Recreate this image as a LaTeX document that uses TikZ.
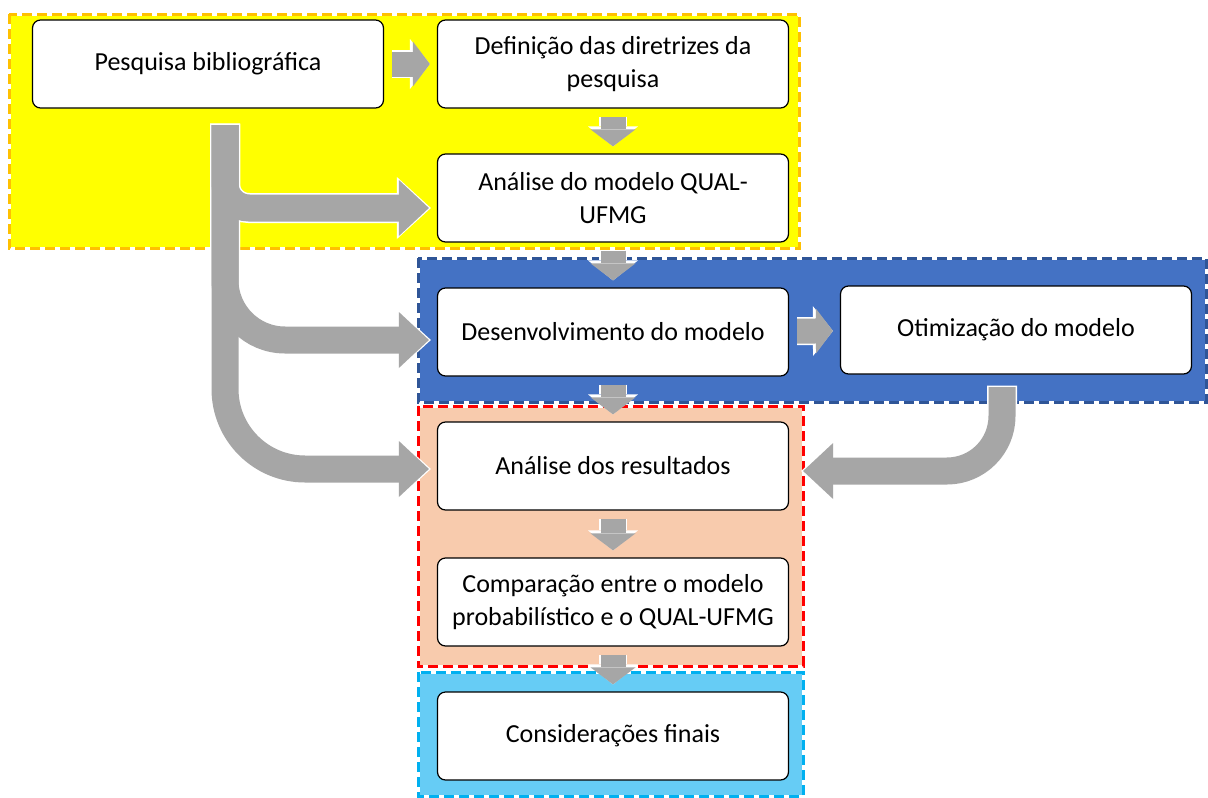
\documentclass[tikz,border=0pt]{standalone}
\usepackage{fontspec}
\setmainfont{Carlito}
\usetikzlibrary{arrows.meta}
\definecolor{yyellow}{HTML}{FFFF00}
\definecolor{oorange}{HTML}{FFC000}
\definecolor{bblue}{HTML}{4472C4}
\definecolor{dblue}{HTML}{2F5597}
\definecolor{ppeach}{HTML}{F8CBAD}
\definecolor{rred}{HTML}{FF0000}
\definecolor{ccyan}{HTML}{66CCF5}
\definecolor{ssky}{HTML}{00B0F0}
\definecolor{ggray}{HTML}{A6A6A6}

\newcommand\trunklines[1]{%
\draw[#1, rounded corners=24pt] (trunk) |- ([yshift=-10pt]anal.west);
\draw[#1, rounded corners=60pt] (trunk) |- ([yshift=-8pt]desv.west);
\draw[#1, rounded corners=80pt] (trunk) |- ([yshift=-3pt]res.west);
}

\begin{document}
\begin{tikzpicture}[x=1pt,y=-1pt,
  box/.style={draw, line width=1.2pt, fill=white, rounded corners=8pt,
    minimum width=351pt, minimum height=88pt, align=center,
    font=\fontsize{26}{33}\selectfont},
  zone/.style={dash pattern=on 10pt off 5pt, line width=3pt},
  smallarr/.style={ggray, line width=25pt,
    -{Triangle[width=45pt,length=17pt,line width=0pt]},
    shorten <=8pt, shorten >=7pt,
    preaction={draw=white, line width=28pt,
      -{Triangle[width=50pt,length=20pt,line width=0pt]}}},
  bigarr/.style={ggray, line width=27pt,
    -{Triangle[width=56pt,length=30pt,line width=0pt]}, shorten >=8pt},
  bigedge/.style={white, line width=30pt,
    -{Triangle[width=62pt,length=34pt,line width=0pt]}, shorten >=6pt,
    shorten <=-1.5pt}]
\useasboundingbox (0,0) rectangle (1208,798);

\foreach \fc/\bc/\xa/\ya/\xb/\yb in {yyellow/oorange/9/14/799/248,
  bblue/dblue/418/258/1206/402, ppeach/rred/418/406/803/666,
  ccyan/ssky/418/672/803/796}
{
\draw[fill=\fc, draw=white, line width=3pt] (\xa,\ya) rectangle (\xb,\yb);
\draw[zone, draw=\bc] (\xa,\ya) rectangle (\xb,\yb);
}

\node[box] (pesq) at (208,64) {Pesquisa bibliográfica};
\node[box] (dire) at (613,64) {Definição das diretrizes da\\pesquisa};
\node[box] (anal) at (613,198) {Análise do modelo QUAL-\\UFMG};
\node[box] (desv) at (613,332) {Desenvolvimento do modelo};
\node[box] (otim) at (1016,330) {Otimização do modelo};
\node[box] (res) at (613,466) {Análise dos resultados};
\node[box] (comp) at (613,602) {Comparação entre o modelo\\probabilístico e o QUAL-UFMG};
\node[box] (cons) at (613,736) {Considerações finais};

\foreach \a/\b in {pesq/dire, desv/otim, dire/anal, anal/desv, desv/res,
  res/comp, comp/cons}
\draw[smallarr] (\a) -- (\b);

\coordinate (trunk) at (225,125);
\coordinate (bend) at (1002,387);
\trunklines{bigedge}
\trunklines{bigarr}

\draw[bigedge, rounded corners=55pt, shorten >=12pt] (bend) |- ([yshift=-5pt]res.east);
\draw[bigarr, rounded corners=55pt, shorten >=14pt] (bend) |- ([yshift=-5pt]res.east);
\end{tikzpicture}
\end{document}
